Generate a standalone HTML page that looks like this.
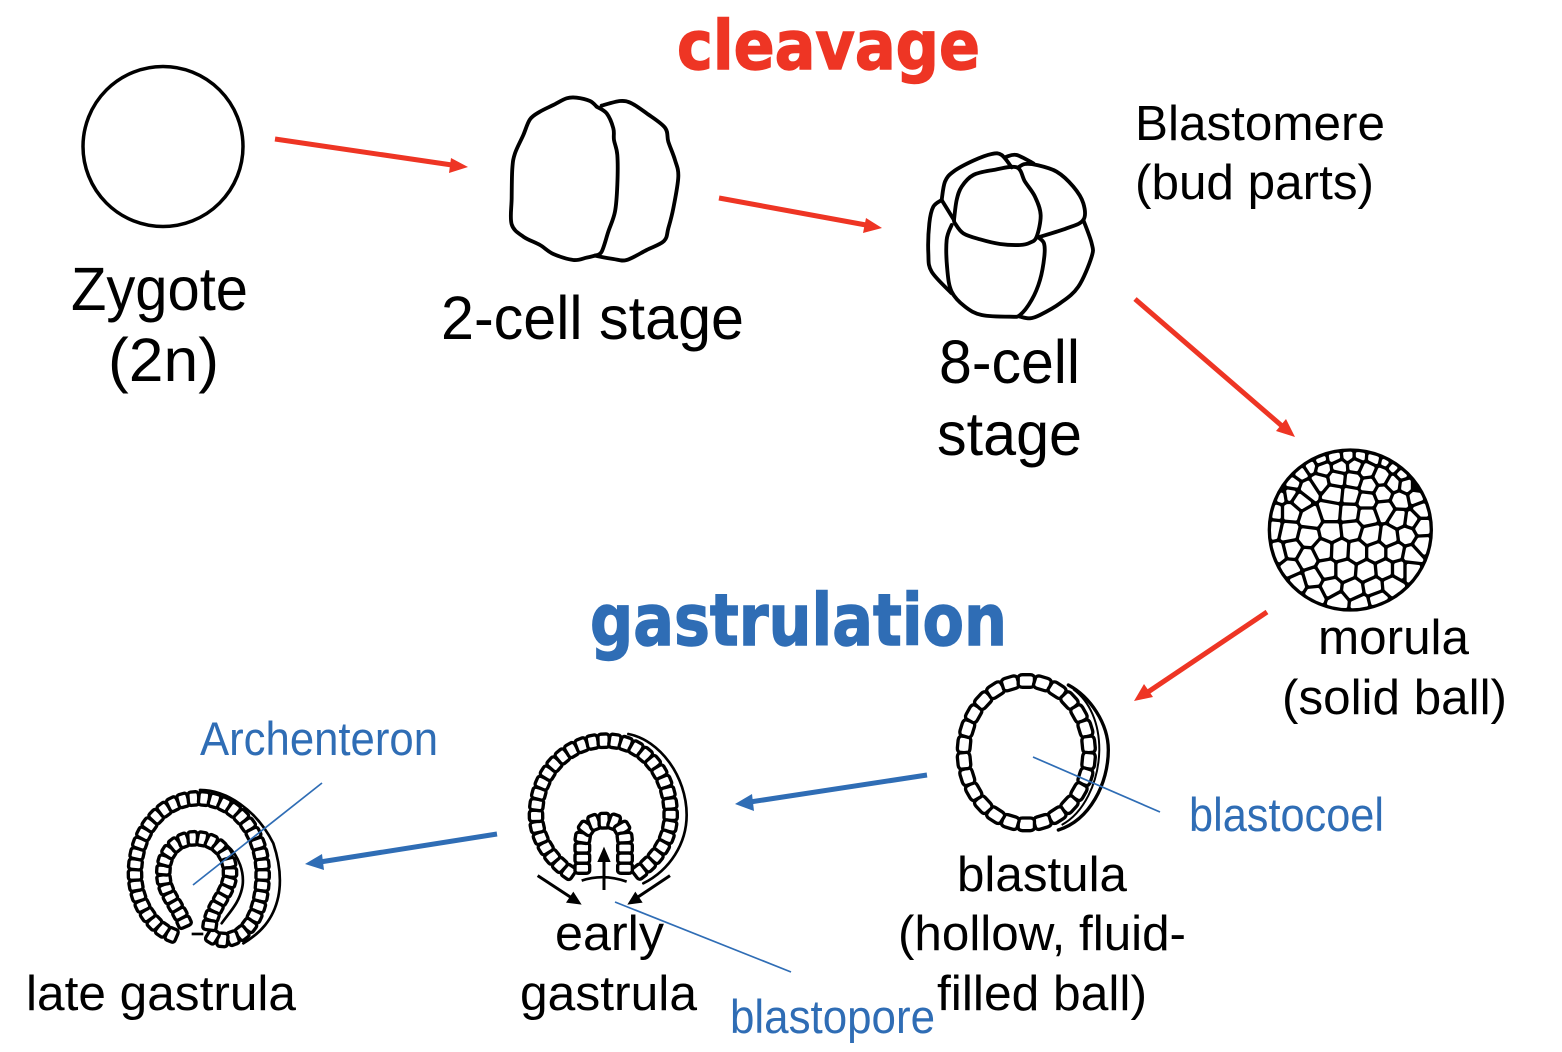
<!DOCTYPE html>
<html><head><meta charset="utf-8"><style>
html,body{margin:0;padding:0;background:#fff}
svg{display:block}
text{font-family:"Liberation Sans",Arial,sans-serif}
.k{fill:#000;font-size:61px}
.m{fill:#000;font-size:49px}
.b{fill:#2F6DB5;font-size:47px}
.h{font-family:"DejaVu Sans",sans-serif;font-weight:bold;stroke-width:1.4;paint-order:stroke}
.o{fill:none;stroke:#000;stroke-width:11.5;stroke-linecap:round;stroke-linejoin:round}
</style></head><body>
<svg id="s" width="1562" height="1052" viewBox="0 0 1562 1052" xmlns="http://www.w3.org/2000/svg">
<rect width="1562" height="1052" fill="#fff"/>

<text class="h" x="677" y="69" font-size="68" fill="#EE3524" stroke="#EE3524" textLength="303" lengthAdjust="spacingAndGlyphs">cleavage</text>
<text class="h" x="590" y="645" font-size="71" fill="#2F6DB5" stroke="#2F6DB5" textLength="417" lengthAdjust="spacingAndGlyphs">gastrulation</text>

<circle cx="163" cy="146.5" r="80" fill="none" stroke="#000" stroke-width="3.5"/>

<!-- 2 cell -->
<g transform="translate(490,85) scale(.3333)">
<path class="o" d="M320 65L300 48L260 38L230 40L190 60L150 80L120 103L100 150L75 205L67 250L65 340L65 418L100 455L150 480L190 507L250 525L290 518L315 512"/>
<path class="o" d="M320 65L350 85L370 130L372 165L382 210L382 300L375 380L355 440L335 500L315 512"/>
<path class="o" d="M335 62L390 48L425 55L470 85L525 128L535 170L555 225L565 275L550 370L535 430L522 468L470 495L410 525L370 522L315 512"/>
</g>

<!-- 8 cell -->
<g transform="translate(910,140) scale(.3333)">
<path class="o" d="M95 180L105 125L130 95L190 62L245 42L275 45L305 82"/>
<path class="o" d="M290 50L320 45L370 70"/>
<path class="o" d="M132 240L140 180L155 140L190 105L250 90L320 82L345 125L375 170L392 225L380 290L360 308L330 315L270 312L210 298L160 280L135 250L132 240"/>
<path class="o" d="M325 82L345 72L380 75L440 95L490 140L520 190L520 240L470 265L385 292"/>
<path class="o" d="M520 240L545 310L545 350L505 440L450 490L390 525L360 535L330 530"/>
<path class="o" d="M125 255L110 300L112 390L125 455L165 500L215 525L300 530L330 525L365 480L390 420L403 350L402 310L385 292"/>
<path class="o" d="M95 180L70 200L58 250L55 340L65 395L125 460"/>
<path class="o" d="M95 180L132 240"/>
</g>

<!-- morula -->
<g id="mo" transform="translate(1240,430) scale(.3333)">
<ellipse cx="331" cy="300" rx="248" ry="245" fill="#000"/>
<g id="seeds" fill="#fff">
<ellipse cx="285" cy="80" rx="22" ry="10"/><ellipse cx="325" cy="75" rx="12" ry="10"/><ellipse cx="360" cy="75" rx="12" ry="9"/><ellipse cx="400" cy="78" rx="15" ry="8"/><ellipse cx="445" cy="88" rx="12" ry="8"/><ellipse cx="240" cy="88" rx="10" ry="8"/><ellipse cx="210" cy="105" rx="12" ry="10"/>
<ellipse cx="298" cy="108" rx="24" ry="16"/><ellipse cx="347" cy="105" rx="18" ry="14"/><ellipse cx="380" cy="120" rx="15" ry="18"/><ellipse cx="425" cy="140" rx="18" ry="15"/><ellipse cx="465" cy="105" rx="20" ry="6"/><ellipse cx="490" cy="130" rx="15" ry="15"/><ellipse cx="180" cy="125" rx="10" ry="16"/><ellipse cx="250" cy="115" rx="12" ry="12"/>
<ellipse cx="155" cy="160" rx="15" ry="14"/><ellipse cx="240" cy="155" rx="20" ry="22"/><ellipse cx="290" cy="145" rx="18" ry="13"/><ellipse cx="340" cy="150" rx="15" ry="22"/><ellipse cx="385" cy="165" rx="15" ry="18"/><ellipse cx="430" cy="190" rx="18" ry="22"/><ellipse cx="460" cy="160" rx="8" ry="10"/><ellipse cx="500" cy="165" rx="15" ry="12"/><ellipse cx="535" cy="165" rx="10" ry="14"/>
<ellipse cx="120" cy="195" rx="9" ry="15"/><ellipse cx="205" cy="178" rx="16" ry="18"/><ellipse cx="150" cy="190" rx="12" ry="10"/><ellipse cx="180" cy="210" rx="14" ry="10"/><ellipse cx="282" cy="190" rx="20" ry="22"/><ellipse cx="332" cy="195" rx="14" ry="14"/><ellipse cx="380" cy="210" rx="16" ry="12"/><ellipse cx="480" cy="210" rx="18" ry="22"/><ellipse cx="530" cy="200" rx="15" ry="18"/>
<ellipse cx="105" cy="245" rx="15" ry="16"/><ellipse cx="150" cy="245" rx="12" ry="18"/><ellipse cx="272" cy="245" rx="26" ry="30"/><ellipse cx="330" cy="250" rx="24" ry="30"/><ellipse cx="380" cy="258" rx="20" ry="26"/><ellipse cx="435" cy="238" rx="24" ry="16"/><ellipse cx="478" cy="265" rx="16" ry="18"/><ellipse cx="545" cy="240" rx="14" ry="20"/><ellipse cx="515" cy="270" rx="8" ry="14"/><ellipse cx="212" cy="265" rx="15" ry="22"/>
<ellipse cx="100" cy="295" rx="10" ry="16"/><ellipse cx="145" cy="305" rx="22" ry="28"/><ellipse cx="205" cy="320" rx="30" ry="28"/><ellipse cx="272" cy="305" rx="22" ry="28"/><ellipse cx="335" cy="298" rx="26" ry="28"/><ellipse cx="392" cy="315" rx="26" ry="22"/><ellipse cx="447" cy="322" rx="18" ry="24"/><ellipse cx="500" cy="315" rx="14" ry="24"/><ellipse cx="545" cy="290" rx="14" ry="22"/>
<ellipse cx="155" cy="360" rx="14" ry="20"/><ellipse cx="200" cy="385" rx="22" ry="24"/><ellipse cx="250" cy="360" rx="18" ry="20"/><ellipse cx="300" cy="362" rx="20" ry="26"/><ellipse cx="350" cy="365" rx="25" ry="26"/><ellipse cx="410" cy="365" rx="18" ry="20"/><ellipse cx="465" cy="365" rx="20" ry="20"/><ellipse cx="515" cy="375" rx="15" ry="20"/><ellipse cx="548" cy="345" rx="10" ry="20"/>
<ellipse cx="115" cy="370" rx="12" ry="22"/><ellipse cx="150" cy="415" rx="12" ry="16"/><ellipse cx="260" cy="420" rx="26" ry="25"/><ellipse cx="315" cy="420" rx="22" ry="28"/><ellipse cx="380" cy="425" rx="26" ry="38"/><ellipse cx="435" cy="420" rx="18" ry="25"/><ellipse cx="480" cy="420" rx="20" ry="20"/>
<ellipse cx="220" cy="445" rx="20" ry="20"/><ellipse cx="170" cy="460" rx="15" ry="14"/><ellipse cx="270" cy="472" rx="22" ry="18"/><ellipse cx="340" cy="480" rx="25" ry="22"/><ellipse cx="400" cy="470" rx="20" ry="22"/><ellipse cx="455" cy="465" rx="15" ry="20"/><ellipse cx="510" cy="420" rx="8" ry="20"/>
<ellipse cx="225" cy="495" rx="25" ry="14"/><ellipse cx="295" cy="518" rx="30" ry="12"/><ellipse cx="360" cy="524" rx="25" ry="12"/><ellipse cx="415" cy="510" rx="18" ry="12"/>
</g>
</g>

<!-- blastula -->
<g id="bl" transform="translate(930,650) scale(.3333)" fill="none">
<path class="fb" d="M101 308A188 215 0 1 1 477 308A188 215 0 1 1 101 308" stroke="#000" stroke-width="48"/>
<path class="o" d="M415 105C480 140 535 220 535 300C535 400 480 510 385 540" style="stroke-width:10"/>
<path d="M430 118C480 155 508 220 508 300C506 400 460 490 395 525" stroke="#000" stroke-width="6"/>
</g>

<!-- early gastrula -->
<g id="eg" transform="translate(510,710) scale(.3333)" fill="none">
<path class="fb" d="M190 495C130 460 78 390 78 315C78 190 170 92 290 92C400 92 482 190 482 315C482 390 440 450 375 495" stroke="#000" stroke-width="50"/>
<path class="fb" d="M217 490L217 400C217 350 245 332 285 332C325 332 345 350 345 400L345 490" stroke="#000" stroke-width="52"/>
<path class="o" d="M355 72C450 90 530 200 530 315C530 400 480 480 400 520" style="stroke-width:8"/>
<path d="M215 512Q280 490 350 515" stroke="#000" stroke-width="8"/>
<path d="M83 497L190 567M480 497L375 567M282 540L282 440" stroke="#000" stroke-width="9"/>
<path d="M215 584L168 578L190 545ZM352 584L376 545L398 578ZM282 410L302 456L262 456Z" fill="#000"/>
</g>

<!-- late gastrula -->
<g id="lg" transform="translate(110,770) scale(.3333)" fill="none">
<path class="fb" d="M200 500C130 480 75 400 75 310C75 180 160 85 265 85C380 85 458 190 458 310C458 400 430 500 345 510C320 510 305 500 295 490" stroke="#000" stroke-width="50"/>
<path class="fb" d="M228 470C200 400 160 370 160 310C160 240 205 205 255 205C320 205 360 250 360 310C360 370 300 410 298 480" stroke="#000" stroke-width="48"/>
<path class="o" d="M270 60C350 60 440 120 490 220C510 280 515 330 505 380C490 450 450 490 400 520" style="stroke-width:8"/>
<path class="o" d="M350 225C390 260 402 310 398 345C390 400 355 430 335 460" style="stroke-width:8"/>
<path d="M245 492L280 492" stroke="#000" stroke-width="8"/>
</g>

<!-- red arrows -->
<g stroke="#EE3524" stroke-width="5" fill="#EE3524">
<path d="M275 139L452 165"/><path d="M468 167L449 173L451 158Z" stroke="none"/>
<path d="M719 198L866 225"/><path d="M882 228L863 233L866 218Z" stroke="none"/>
<path d="M1135 299L1282 426"/><path d="M1295 437L1276 431L1286 419Z" stroke="none"/>
<path d="M1267 612L1148 692"/><path d="M1134 701L1144 684L1153 697Z" stroke="none"/>
</g>
<!-- blue arrows -->
<g stroke="#2F6DB5" stroke-width="5" fill="#2F6DB5">
<path d="M927 775L750 802"/><path d="M735 804L752 794L754 811Z" stroke="none"/>
<path d="M497 834L320 862"/><path d="M305 864L322 854L324 870Z" stroke="none"/>
</g>
<g stroke="#2F6DB5" stroke-width="1.7" fill="none">
<path d="M1033 757L1160 812"/><path d="M322 783L193 885"/><path d="M615 902L791 972"/>
</g>

<text class="k" x="71" y="310" textLength="177" lengthAdjust="spacingAndGlyphs">Zygote</text>
<text class="k" x="108" y="381" textLength="111" lengthAdjust="spacingAndGlyphs">(2n)</text>
<text class="k" x="441" y="339" textLength="303" lengthAdjust="spacingAndGlyphs">2-cell stage</text>
<text class="k" x="939" y="383" textLength="141" lengthAdjust="spacingAndGlyphs">8-cell</text>
<text class="k" x="937" y="455" textLength="145" lengthAdjust="spacingAndGlyphs">stage</text>
<text class="m" x="1135" y="140" textLength="250" lengthAdjust="spacingAndGlyphs">Blastomere</text>
<text class="m" x="1135" y="199" textLength="239" lengthAdjust="spacingAndGlyphs">(bud parts)</text>
<text class="m" x="1318" y="654" textLength="151" lengthAdjust="spacingAndGlyphs">morula</text>
<text class="m" x="1282" y="714" textLength="225" lengthAdjust="spacingAndGlyphs">(solid ball)</text>
<text class="m" x="957" y="891" textLength="170" lengthAdjust="spacingAndGlyphs">blastula</text>
<text class="m" x="898" y="950" textLength="288" lengthAdjust="spacingAndGlyphs">(hollow, fluid-</text>
<text class="m" x="937" y="1010" textLength="210" lengthAdjust="spacingAndGlyphs">filled ball)</text>
<text class="m" x="555" y="950" textLength="109" lengthAdjust="spacingAndGlyphs">early</text>
<text class="m" x="520" y="1010" textLength="177" lengthAdjust="spacingAndGlyphs">gastrula</text>
<text class="m" x="26" y="1010" textLength="270" lengthAdjust="spacingAndGlyphs">late gastrula</text>
<text class="b" x="200" y="755" textLength="238" lengthAdjust="spacingAndGlyphs">Archenteron</text>
<text class="b" x="1189" y="831" textLength="195" lengthAdjust="spacingAndGlyphs">blastocoel</text>
<text class="b" x="730" y="1033" textLength="205" lengthAdjust="spacingAndGlyphs">blastopore</text>
</svg>
<script>
(function(){
var NS="http://www.w3.org/2000/svg";
/* smooth the hand-traced polylines */
[].slice.call(document.querySelectorAll("path.o")).forEach(function(e){
  var d=e.getAttribute("d");
  if(d.indexOf("C")>=0)return;
  var n=d.match(/-?[\d.]+/g).map(Number),P=[];
  for(var i=0;i<n.length;i+=2)P.push([n[i],n[i+1]]);
  if(P.length<3)return;
  var o="M"+P[0][0]+" "+P[0][1];
  for(i=0;i<P.length-1;i++){
    var a=P[Math.max(i-1,0)],b=P[i],c=P[i+1],f=P[Math.min(i+2,P.length-1)];
    o+="C"+(b[0]+(c[0]-a[0])/6)+" "+(b[1]+(c[1]-a[1])/6)+" "+(c[0]-(f[0]-b[0])/6)+" "+(c[1]-(f[1]-b[1])/6)+" "+c[0]+" "+c[1];
  }
  e.setAttribute("d",o);
});
function cells(id,d,n,h,sw){
  var g=document.getElementById(id),wrap=document.createElementNS(NS,"g");
  var p=document.createElementNS(NS,"path");p.setAttribute("d",d);
  wrap.appendChild(p);g.insertBefore(wrap,g.firstChild);
  var L=p.getTotalLength(),w=L/n;
  for(var i=0;i<n;i++){
    var s=(i+.5)*w,a=p.getPointAtLength(s-.5),b=p.getPointAtLength(s+.5);
    var x=(a.x+b.x)/2,y=(a.y+b.y)/2,t=Math.atan2(b.y-a.y,b.x-a.x)*180/Math.PI;
    var r=document.createElementNS(NS,"rect");
    r.setAttribute("x",-w/2);r.setAttribute("y",-h/2);
    r.setAttribute("width",w);r.setAttribute("height",h);
    r.setAttribute("rx",w*.26);r.setAttribute("ry",h*.24);
    r.setAttribute("fill","#fff");r.setAttribute("stroke","#000");r.setAttribute("stroke-width",sw);
    r.setAttribute("transform","translate("+x+","+y+") rotate("+t+")");
    wrap.appendChild(r);
  }
  wrap.removeChild(p);
  return wrap;
}
[].slice.call(document.querySelectorAll(".fb")).forEach(function(e){e.parentNode.removeChild(e)});
cells("bl","M101 308A188 215 0 1 1 477 308A188 215 0 1 1 101 308",26,38,10);
cells("eg","M217 490L217 400C217 350 245 332 285 332C325 332 345 350 345 400L345 490",13,44,10);
cells("eg","M190 495C130 460 78 390 78 315C78 190 170 92 290 92C400 92 482 190 482 315C482 390 440 450 375 495",33,40,10);
cells("lg","M228 470C200 400 160 370 160 310C160 240 205 205 255 205C320 205 360 250 360 310C360 370 300 410 298 480",24,40,10);
cells("lg","M200 500C130 480 75 400 75 310C75 180 160 85 265 85C380 85 458 190 458 310C458 400 430 500 345 510C320 510 305 500 295 490",38,40,10);

/* morula network from seed points */
var sg=document.getElementById("seeds"),es=[].slice.call(sg.querySelectorAll("ellipse"));
var pts=es.map(function(e){return [+e.getAttribute("cx"),+e.getAttribute("cy")]});
while(sg.firstChild)sg.removeChild(sg.firstChild);
var base=[];for(var k=0;k<56;k++){var a=k/56*2*Math.PI;base.push([331+233*Math.cos(a),300+230*Math.sin(a)]);}
function clip(poly,mx,my,nx,ny,g){
  var out=[];
  for(var i=0;i<poly.length;i++){
    var A=poly[i],B=poly[(i+1)%poly.length];
    var da=(A[0]-mx)*nx+(A[1]-my)*ny+g,db=(B[0]-mx)*nx+(B[1]-my)*ny+g;
    if(da<=0)out.push(A);
    if((da<0&&db>0)||(da>0&&db<0)){var t=da/(da-db);out.push([A[0]+t*(B[0]-A[0]),A[1]+t*(B[1]-A[1])]);}
  }
  return out;
}
pts.forEach(function(P,i){
  var poly=base;
  pts.forEach(function(Q,j){
    if(i==j||!poly.length)return;
    var dx=Q[0]-P[0],dy=Q[1]-P[1],l=Math.sqrt(dx*dx+dy*dy);
    poly=clip(poly,(P[0]+Q[0])/2,(P[1]+Q[1])/2,dx/l,dy/l,10);
  });
  if(poly.length<3)return;
  var e=document.createElementNS(NS,"polygon");
  e.setAttribute("points",poly.map(function(q){return q[0].toFixed(1)+","+q[1].toFixed(1)}).join(" "));
  e.setAttribute("fill","#fff");e.setAttribute("stroke","#fff");e.setAttribute("stroke-width","10");e.setAttribute("stroke-linejoin","round");
  sg.appendChild(e);
});
})();
</script>
</body></html>
